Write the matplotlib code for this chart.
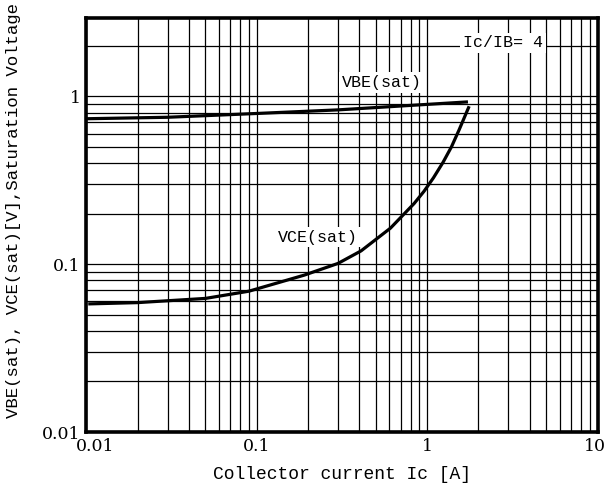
import matplotlib
matplotlib.use("Agg")
import matplotlib.pyplot as plt
import matplotlib.transforms as mtransforms
from matplotlib.ticker import FixedLocator, NullFormatter

ic_vbe = [0.01, 0.03, 0.1, 0.3, 1.0, 1.7]
vbe_sat = [0.735, 0.75, 0.79, 0.83, 0.895, 0.925]

ic_vce = [0.0105, 0.02, 0.05, 0.09, 0.19, 0.3, 0.41, 0.61, 0.84, 0.96, 1.09,
          1.24, 1.39, 1.54, 1.75]
vce_sat = [0.058, 0.059, 0.0625, 0.069, 0.086, 0.101, 0.12, 0.164, 0.23, 0.272, 0.327,
           0.404, 0.50, 0.63, 0.855]

x_ticks = [0.01, 0.1, 1, 10]
x_ticklabels = ["0.01", "0.1", "1", "10"]
y_ticks = [0.01, 0.1, 1]
y_ticklabels = ["0.01", "0.1", "1"]

plt.rcParams["font.family"] = ["DejaVu Serif"]
mono = "Liberation Mono"

fig = plt.figure(figsize=(6.16, 4.98), dpi=100)
ax = fig.add_axes([0.140, 0.1325, 0.830, 0.8315])

ax.set_xscale("log")
ax.set_yscale("log")
ax.set_xlim(0.01, 10)
ax.set_ylim(0.01, 2.93)

minors = [m * 10.0 ** e for e in range(-3, 2) for m in range(2, 10)]
ax.xaxis.set_major_locator(FixedLocator(x_ticks))
ax.yaxis.set_major_locator(FixedLocator(y_ticks))
ax.xaxis.set_minor_locator(FixedLocator(minors))
ax.yaxis.set_minor_locator(FixedLocator(minors))
ax.xaxis.set_minor_formatter(NullFormatter())
ax.yaxis.set_minor_formatter(NullFormatter())
ax.set_xticklabels(x_ticklabels, fontsize=12.5)
ax.set_yticklabels(y_ticklabels, fontsize=12.5)
ax.tick_params(which="both", length=0, pad=4)

# erstes x-Label etwas nach rechts, damit es nicht mit 0.01 der y-Achse kollidiert
lbls = ax.get_xticklabels()
lbls[0].set_transform(lbls[0].get_transform() + mtransforms.ScaledTranslation(0.09, 0, fig.dpi_scale_trans))
lbls[-1].set_transform(lbls[-1].get_transform() + mtransforms.ScaledTranslation(-0.03, 0, fig.dpi_scale_trans))

ax.grid(True, which="both", color="black", linewidth=0.9)
for s in ax.spines.values():
    s.set_linewidth(2.6)

ax.plot(ic_vbe, vbe_sat, color="black", linewidth=2.3, zorder=5, solid_joinstyle="round")
ax.plot(ic_vce, vce_sat, color="black", linewidth=2.3, zorder=5, solid_joinstyle="round")

box = dict(facecolor="white", edgecolor="none", pad=2)
ax.text(0.54, 1.21, "VBE(sat)", fontsize=12, family=mono, ha="center", va="center", bbox=box, zorder=6)
ax.text(0.23, 0.145, "VCE(sat)", fontsize=12, family=mono, ha="center", va="center", bbox=box, zorder=6)
ax.text(2.8, 2.08, "Ic/IB= 4", fontsize=12, family=mono, ha="center", va="center", bbox=box, zorder=6)

ax.set_xlabel("Collector current Ic [A]", fontsize=13, family=mono, labelpad=8)
ax.set_ylabel("VBE(sat), VCE(sat)[V],Saturation Voltage", fontsize=12.5, family=mono)
ax.yaxis.set_label_coords(-0.127, 0.534)

fig.savefig("out.png", dpi=100)
